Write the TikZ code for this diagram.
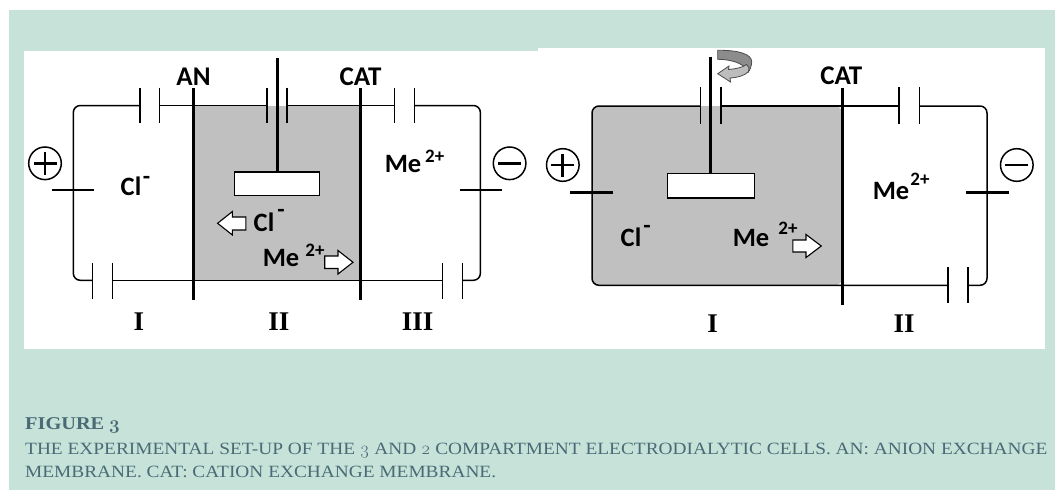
\documentclass[tikz,border=0pt]{standalone}
\usepackage{fontspec}
\setmainfont{Liberation Serif}
\newfontfamily\lab{Carlito}[Ligatures=TeX]
\newfontfamily\capf{Liberation Serif}[FakeStretch=1.125]
\newfontfamily\capb{Liberation Serif Bold}[FakeStretch=1.13]
\newfontfamily\capnum{Latin Modern Roman}[Numbers=OldStyle]
\definecolor{bgc}{HTML}{C6E2D9}
\definecolor{capc}{HTML}{4A6B75}
\definecolor{cell}{HTML}{C0C0C0}
\definecolor{ribd}{HTML}{8C8C8C}
\definecolor{ribl}{HTML}{BDBDBD}
\tikzset{
  wire/.style={draw=black,line width=1.5pt,rounded corners=7pt},
  plate/.style={draw=black,line width=1.5pt},
  mem/.style={draw=black,line width=3pt},
  rod/.style={draw=black,line width=2.8pt},
  paddle/.style={draw=black,fill=white,line width=1.6pt},
  blockarrow/.style={draw=black,fill=white,line width=1.1pt,line join=miter},
  sign/.style={draw=black,line width=1.5pt},
  signbar/.style={draw=black,line width=2.8pt},
  big/.style={font=\lab\bfseries\fontsize{27}{27}\selectfont,anchor=base,inner sep=0pt},
  ion/.style={font=\lab\bfseries\fontsize{26.5}{27}\selectfont,anchor=base,inner sep=0pt},
  sup/.style={font=\lab\bfseries\fontsize{19}{19}\selectfont,anchor=base,inner sep=0pt},
  dashsup/.style={font=\lab\bfseries\fontsize{24}{24}\selectfont,anchor=base,inner sep=0pt},
  roman/.style={font=\bfseries\fontsize{27}{27}\selectfont,anchor=base,inner sep=0pt},
  capt/.style={font=\capf\fontsize{17.2}{17.2}\selectfont,text=capc,anchor=base west,inner sep=0pt},
}
\newcommand{\platepair}[4]{%
  \draw[plate] (#1,#3) -- (#1,#4);
  \draw[plate] (#2,#3) -- (#2,#4);}
\newcommand{\plusmark}[2]{%
  \draw[sign] (#1,#2) circle (16.3pt);
  \draw[signbar] (#1-11.5,#2) -- (#1+11.5,#2);
  \draw[signbar] (#1,#2-11.5) -- (#1,#2+11.5);}
\newcommand{\minusmark}[2]{%
  \draw[sign] (#1,#2) circle (16.3pt);
  \draw[signbar] (#1-11.5,#2) -- (#1+11.5,#2);}
\begin{document}
\begin{tikzpicture}[x=1pt,y=-1pt]
\useasboundingbox (0,0) rectangle (1055,490);
\fill[bgc] (9,10) rectangle (1055,490);
\fill[white] (24,51) rectangle (538,349);
\fill[white] (538,48) rectangle (1045,349);
% --- left cell
\fill[cell] (193.5,105.5) rectangle (360.5,280.3);
\draw[wire] (139.8,105.5) -- (73.3,105.5) -- (73.3,280.3) -- (92.3,280.3);
\draw[wire] (159.4,105.5) -- (266.9,105.5);
\draw[wire] (286.8,105.5) -- (394.6,105.5);
\draw[wire] (414.6,105.5) -- (480.4,105.5) -- (480.4,280.3) -- (462.5,280.3);
\draw[wire] (112.3,280.3) -- (442.5,280.3);
\platepair{139.8}{159.4}{87.7}{123.3}
\platepair{266.9}{286.8}{87.7}{123.3}
\platepair{394.6}{414.6}{87.7}{123.3}
\platepair{92.3}{112.3}{263.3}{298.7}
\platepair{442.5}{462.5}{263.3}{298.7}
\draw[mem] (193.5,88) -- (193.5,300);
\draw[mem] (360.5,88) -- (360.5,300);
\draw[rod] (277.2,57.7) -- (277.2,172);
\draw[paddle] (234.5,171.7) rectangle (319.6,195.3);
\draw[rod] (52.3,190) -- (93.7,190);
\draw[rod] (460.4,190) -- (501.7,190);
\plusmark{45}{163.3}
\minusmark{509.6}{163.3}
\draw[blockarrow] (217.6,223.3) -- (232.4,211.5) -- (232.4,217) -- (245.9,217) -- (245.9,230) -- (232.4,230) -- (232.4,235) -- cycle;
\draw[blockarrow] (353,262.3) -- (338,250.5) -- (338,256) -- (324.7,256) -- (324.7,268.5) -- (338,268.5) -- (338,274) -- cycle;
\node[big] (an) at (193.5,85) {AN};
\node[big] (cat1) at (360.5,85) {CAT};
\node[ion] (cl1) at (131,195.7) {Cl};
\node[dashsup] (cl1s) at (146.5,184) {-};
\node[ion] (cl2) at (264,231) {Cl};
\node[dashsup] (cl2s) at (281,217) {-};
\node[ion] (me1) at (281,266) {Me};
\node[sup] (me1s) at (315,256.7) {2+};
\node[ion] (me2) at (403,172.7) {Me};
\node[sup] (me2s) at (434.7,162.7) {2+};
\node[roman] (r1) at (138.8,330) {I};
\node[roman] (r2) at (279,330) {II};
\node[roman] (r3) at (417.7,330) {III};
% --- right cell
\fill[cell,rounded corners=7pt] (842,106) -- (592,106) -- (592,285.3) -- (842,285.3) -- cycle;
\draw[wire] (700.7,106) -- (592,106) -- (592,285.3) -- (947.8,285.3);
\draw[wire] (720.8,106) -- (899,106);
\draw[wire] (919.4,106) -- (987,106) -- (987,285.3) -- (967.9,285.3);
\platepair{700.7}{720.8}{87.3}{124}
\platepair{899}{919.4}{87.3}{124}
\platepair{947.8}{967.9}{267.3}{303.3}
\draw[mem] (842,88) -- (842,305);
\draw[rod] (710.8,56.7) -- (710.8,174);
\draw[paddle] (667.3,173.3) rectangle (754.3,197.7);
\draw[rod] (570.2,192.3) -- (613,192.3);
\draw[rod] (966.2,192.3) -- (1008.7,192.3);
\plusmark{562.8}{165}
\minusmark{1016.8}{165}
\draw[blockarrow] (821.3,246) -- (806,234.5) -- (806,240) -- (792.8,240) -- (792.8,252) -- (806,252) -- (806,257.5) -- cycle;
% rotation arrow
\draw[draw=black!70,fill=ribd,line width=.8pt] (717.7,50.3) .. controls (738,50) and (752,54) .. (751.7,62) .. controls (751.5,66) and (750,70) .. (748,72.5) .. controls (747,66) and (736,59.5) .. (717.7,59.3) -- cycle;
\draw[draw=black!70,fill=ribl,line width=.8pt] (717.7,73.7) -- (729,66) -- (728.5,69.5) .. controls (735,69) and (743,67.5) .. (746.5,64.5) .. controls (749,66) and (750,69) .. (748.5,71.5) .. controls (745,75.5) and (738,77.5) .. (730,78) -- (730.5,82) -- cycle;
\node[big] (cat2) at (841.3,84) {CAT};
\node[ion] (cl3) at (631,246.7) {Cl};
\node[dashsup] (cl3s) at (647,233) {-};
\node[ion] (me3) at (751,246) {Me};
\node[sup] (me3s) at (788,234) {2+};
\node[ion] (me4) at (891,199) {Me};
\node[sup] (me4s) at (920,185) {2+};
\node[roman] (r4) at (712.5,332.7) {I};
\node[roman] (r5) at (904,332.7) {II};
% --- caption
\node[capt,font=\capb\fontsize{18}{18}\selectfont] (c1) at (25,429.5) {FIGURE\hspace{-1pt} {\capnum\bfseries\fontsize{19}{19}\selectfont 3}};
\node[capt] (c2) at (25,454) {THE EXPERIMENTAL SET-UP OF THE {\capnum\fontsize{18}{18}\selectfont 3} AND {\capnum\fontsize{18}{18}\selectfont 2} COMPARTMENT ELECTRODIALYTIC CELLS. AN: ANION EXCHANGE};
\node[capt] (c3) at (25,477) {MEMBRANE. CAT: CATION EXCHANGE MEMBRANE.};
\end{tikzpicture}
\end{document}
